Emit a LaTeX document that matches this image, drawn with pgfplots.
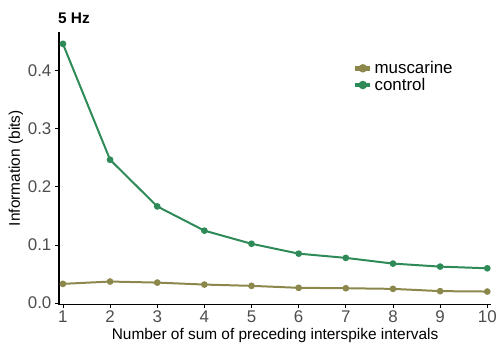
\documentclass[border=0pt]{standalone}
\usepackage{fontspec}
\setmainfont{Liberation Sans}
\usepackage{pgfplots}
\pgfplotsset{compat=1.18}
\definecolor{ctrl}{HTML}{2E8B57}
\definecolor{musc}{HTML}{8C884C}
\definecolor{ticktext}{HTML}{4D4D4D}
\begin{document}
\begin{tikzpicture}[x=1bp,y=1bp]
\begin{axis}[
  scale only axis,
  width=433bp, height=273bp,
  xmin=0.915, xmax=10.085,
  ymin=-0.0026, ymax=0.4665,
  axis x line*=bottom, axis y line*=left,
  axis line style={line width=1.4bp, black, -},
  xtick={1,...,10},
  ytick={0,0.1,0.2,0.3,0.4},
  yticklabels={0.0,0.1,0.2,0.3,0.4},
  /pgf/number format/assume math mode=true,
  tick align=outside,
  major tick length=3.5bp,
  tick style={line width=0.8bp, black},
  tick label style={font=\fontsize{17}{19}\selectfont, text=ticktext},
  xticklabel style={yshift=1bp},
  yticklabel style={xshift=-0.5bp},
  xlabel={Number of sum of preceding interspike intervals},
  ylabel={Information (bits)},
  every axis label/.append style={font=\fontsize{15.5}{18}\selectfont},
  xlabel style={yshift=1bp},
  ylabel style={yshift=-2bp},
  clip=false,
  legend style={draw=none, fill=none, at={(rel axis cs:0.68,0.90)}, anchor=north west,
    font=\fontsize{17}{18}\selectfont, row sep=-1bp, inner sep=0pt},
  legend cell align=left,
  legend image code/.code={
    \draw[line width=4.5bp] (0bp,0bp) -- (15bp,0bp);
    \fill (7.5bp,0bp) circle (3.2bp);
  },
]
\addplot[color=musc, line width=2bp, mark=*, mark size=2.3bp] coordinates {
  (1,0.0330) (2,0.0370) (3,0.0352) (4,0.0318) (5,0.0296)
  (6,0.0262) (7,0.0255) (8,0.0244) (9,0.0205) (10,0.0198)
};
\addlegendentry{muscarine}
\addplot[color=ctrl, line width=2bp, mark=*, mark size=2.3bp] coordinates {
  (1,0.4460) (2,0.2466) (3,0.1663) (4,0.1246) (5,0.1020)
  (6,0.0850) (7,0.0777) (8,0.0679) (9,0.0627) (10,0.0598)
};
\addlegendentry{control}
\coordinate (o) at (rel axis cs:0,0);
\node[anchor=south west, font=\bfseries\fontsize{15.5}{17}\selectfont, inner sep=0pt]
  at ([xshift=-1bp,yshift=8bp]rel axis cs:0,1) {5 Hz};
\end{axis}
\path (o) ++(-59bp,-40bp) rectangle ++(500bp,345bp);
\end{tikzpicture}
\end{document}
